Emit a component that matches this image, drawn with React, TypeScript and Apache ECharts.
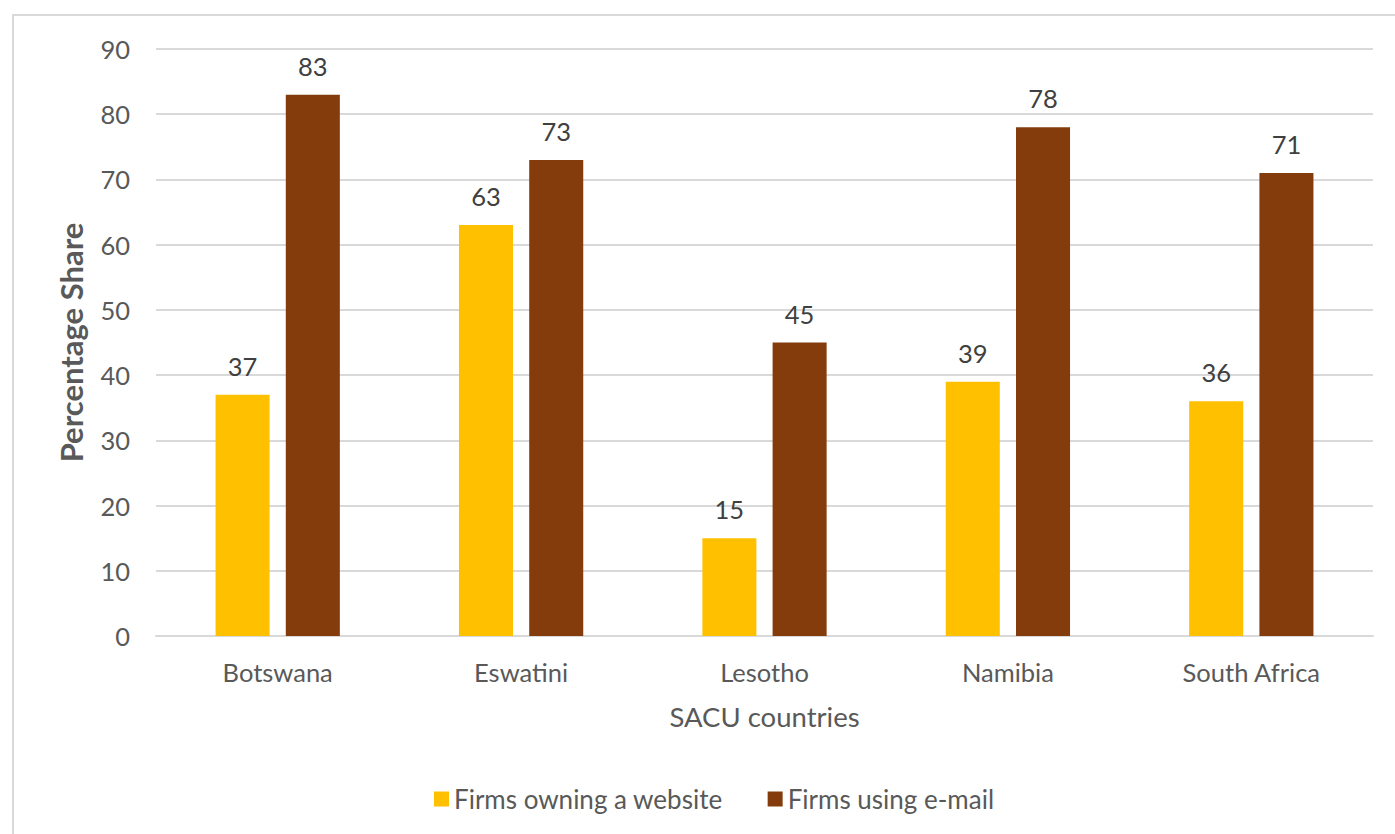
import React, { useEffect, useRef } from "react";
import * as echarts from "echarts";

const categories = ["Botswana", "Eswatini", "Lesotho", "Namibia", "South Africa"];
const websiteValues = [37, 63, 15, 39, 36];
const emailValues = [83, 73, 45, 78, 71];
const seriesNames = ["Firms owning a website", "Firms using e-mail"];
const yTicks = { min: 0, max: 90, interval: 10 };

const FONT = "Lato, 'Open Sans', sans-serif";

export default function App() {
  const ref = useRef<HTMLDivElement>(null);
  useEffect(() => {
    document.body.style.margin = "0";
    const chart = echarts.init(ref.current!, null, { renderer: "svg" });
    const labelStyle = {
      show: true,
      position: "top" as const,
      distance: 16,
      color: "#404040",
      fontSize: 25.5,
      fontFamily: FONT,
    };
    chart.setOption({
      animation: false,
      backgroundColor: "#ffffff",
      textStyle: { fontFamily: FONT },
      graphic: [
        {
          type: "rect",
          shape: { x: 13, y: 15, width: 1400, height: 860 },
          style: { fill: "none", stroke: "#d9d9d9", lineWidth: 2 },
          silent: true,
          z: -10,
        },
      ],
      grid: { left: 156, right: 22, top: 49, bottom: 198, containLabel: false },
      legend: {
        bottom: 17,
        left: 429,
        itemWidth: 15,
        itemHeight: 15,
        itemGap: 45,
        icon: "rect",
        textStyle: { color: "#595959", fontSize: 26, fontFamily: FONT },
        data: seriesNames,
      },
      xAxis: {
        type: "category",
        data: categories,
        name: "SACU countries",
        nameLocation: "middle",
        nameGap: 66,
        nameTextStyle: { color: "#595959", fontSize: 27.5, fontFamily: FONT },
        axisLine: { lineStyle: { color: "#d9d9d9", width: 2 } },
        axisTick: { show: false },
        axisLabel: { color: "#595959", fontSize: 25.5, margin: 23, fontFamily: FONT },
      },
      yAxis: {
        type: "value",
        min: yTicks.min,
        max: yTicks.max,
        interval: yTicks.interval,
        name: "Percentage Share",
        nameLocation: "middle",
        nameGap: 70,
        nameTextStyle: { color: "#595959", fontSize: 31, fontWeight: "bold", fontFamily: FONT },
        axisLine: { show: false },
        axisTick: { show: false },
        splitLine: { lineStyle: { color: "#d9d9d9", width: 2 } },
        axisLabel: { color: "#595959", fontSize: 25.5, margin: 26, fontFamily: FONT },
      },
      series: [
        {
          name: seriesNames[0],
          type: "bar",
          data: websiteValues,
          barWidth: "22.2%",
          barGap: "30%",
          itemStyle: { color: "#FFC000" },
          label: labelStyle,
        },
        {
          name: seriesNames[1],
          type: "bar",
          data: emailValues,
          barWidth: "22.2%",
          barGap: "30%",
          itemStyle: { color: "#843C0C" },
          label: labelStyle,
        },
      ],
    });
    return () => chart.dispose();
  }, []);
  return (
    <div
      ref={ref}
      style={{ position: "absolute", left: 0, top: 0, width: 1395, height: 834 }}
    />
  );
}
